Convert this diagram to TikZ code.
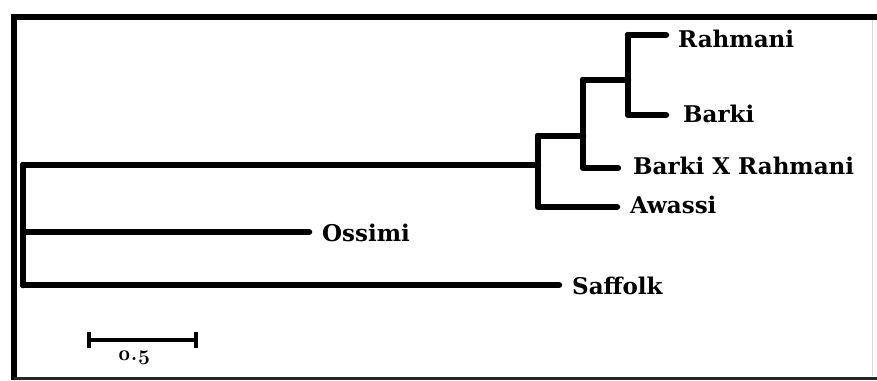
\documentclass[tikz,border=0pt]{standalone}
\usepackage{fontspec}
\setmainfont{DejaVu Serif}
\newfontfamily\osf[Numbers=OldStyle]{Latin Modern Roman}
\begin{document}
\begin{tikzpicture}[x=1pt,y=-1pt,
  branch/.style={line width=6.5pt,line cap=round,line join=round},
  leaf/.style={anchor=west,inner sep=0pt,font=\bfseries\fontsize{23}{26}\selectfont},
  frame/.style={line width=6pt}]
\useasboundingbox (0,0) rectangle (877,380);
% frame
\draw[frame] (14,380) -- (14,17) -- (877,17);
\draw[line width=3pt,black!85] (14,378.5) -- (877,378.5);
\draw[line width=1pt,black!15] (872,20) -- (872,376);
% internal nodes
\coordinate (r0) at (23,165);
\coordinate (r1) at (23,285);
\coordinate (a0) at (538,136);
\coordinate (a1) at (538,207);
\coordinate (b0) at (583,80);
\coordinate (b1) at (583,168);
\coordinate (c0) at (628,35);
\coordinate (c1) at (628,115);
% leaf ends
\coordinate (eRah) at (666,35);
\coordinate (eBar) at (666,115);
\coordinate (eBxR) at (618,168);
\coordinate (eAwa) at (617,207);
\coordinate (eOss) at (309,232);
\coordinate (eSaf) at (559,285);
% labels
\node[leaf] (Rah) at (678,39) {Rahmani};
\node[leaf] (Bar) at (683,114) {Barki};
\node[leaf] (BxR) at (633,166) {Barki X Rahmani};
\node[leaf] (Awa) at (630,205) {Awassi};
\node[leaf] (Oss) at (322,233) {Ossimi};
\node[leaf] (Saf) at (572,286) {Saffolk};
% tree
\draw[branch] (r0) -- (r1);
\draw[branch] (r0) -- (r0 -| a0);
\draw[branch] (a0) -- (a1) -- (eAwa);
\draw[branch] (a0) -- (b0 |- a0);
\draw[branch] (b0) -- (b1) -- (eBxR);
\draw[branch] (b0) -- (b0 -| c0);
\draw[branch] (c0) -- (c1) -- (eBar);
\draw[branch] (c0) -- (eRah);
\draw[branch] (23,232) -- (eOss);
\draw[branch] (r1) -- (eSaf);
% scale bar
\coordinate (s0) at (89,340);
\coordinate (s1) at (196,340);
\draw[line width=4pt] (s0) -- (s1);
\draw[line width=4pt] ([yshift=-8pt]s0) -- ([yshift=8pt]s0);
\draw[line width=4pt] ([yshift=-8pt]s1) -- ([yshift=8pt]s1);
\node[inner sep=0pt,font=\osf\bfseries\fontsize{21}{24}\selectfont] (sl) at (134,358) {0.5};
\end{tikzpicture}
\end{document}
